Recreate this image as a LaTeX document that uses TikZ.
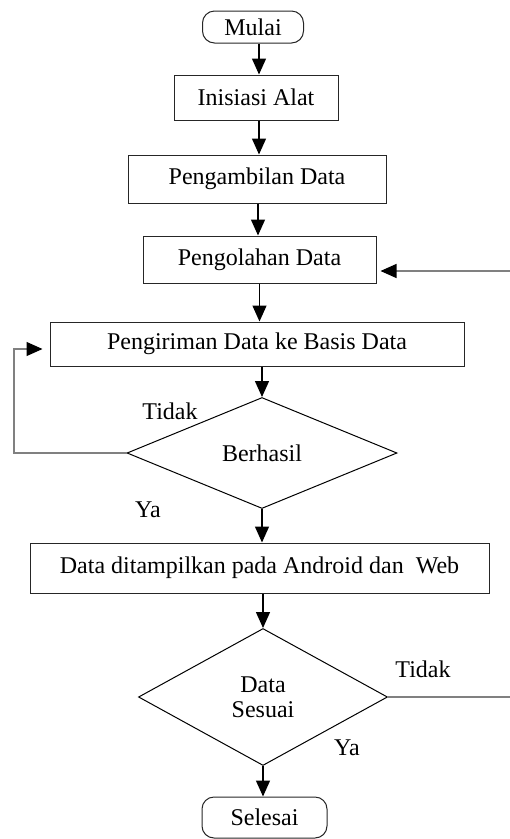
\documentclass[tikz,border=0pt]{standalone}
\usepackage{fontspec}
\setmainfont{Liberation Serif}
\usetikzlibrary{shapes.geometric,arrows.meta}

\begin{document}
\begin{tikzpicture}[x=1pt,y=-1pt,
  font=\fontsize{24}{25}\selectfont,
  box/.style={draw=black!85,line width=1pt,rectangle,inner sep=0pt,align=center},
  term/.style={box,rounded corners=12pt},
  decision/.style={draw=black,line width=1pt,diamond,inner sep=0pt,align=center},
  flow/.style={draw=black,line width=1.4pt,-{Triangle[width=14pt,length=16pt]}},
  side/.style={draw=black!50,line width=1.2pt},
  sidearrow/.style={side,-{Triangle[width=14pt,length=16pt,fill=black,color=black]}},
  lbl/.style={inner sep=0pt}]
\useasboundingbox (0,0) rectangle (510,839);

% process steps
\node[term,minimum width=101pt,minimum height=32pt] (mulai) at (253,27) {Mulai};
\node[box,minimum width=164pt,minimum height=45pt] (init) at (256,97.5) {Inisiasi Alat};
\node[box,minimum width=258pt,minimum height=48pt] (ambil) at (257,179) {Pengambilan Data};
\node[box,minimum width=233pt,minimum height=47pt] (olah) at (259.5,259.5) {Pengolahan Data};
\node[box,minimum width=414pt,minimum height=44pt] (kirim) at (257,344) {Pengiriman Data ke Basis Data};
\node[decision,minimum width=270pt,minimum height=111pt,aspect=2.43] (cek1) at (262,453) {\raisebox{-2pt}{Berhasil}};
\node[box,minimum width=459pt,minimum height=50pt] (tampil) at (259.5,568) {Data ditampilkan pada Android dan\ \ Web};
\node[decision,minimum width=249pt,minimum height=137pt,aspect=1.82] (cek2) at (263,697) {\raisebox{-3pt}{\parbox{3cm}{\centering Data\\Sesuai}}};
\node[term,minimum width=125pt,minimum height=41pt] (selesai) at (264.5,817.5) {Selesai};

% branch labels
\node[lbl] (t1) at (170,411) {Tidak};
\node[lbl] (y1) at (148,510) {Ya};
\node[lbl] (t2) at (423,669) {Tidak};
\node[lbl] (y2) at (347,748) {Ya};

% main flow (vertical drops)
\draw[flow] ([xshift=6pt]mulai.south) coordinate (f0) -- (f0 |- init.north);
\draw[flow] ([xshift=3pt]init.south) coordinate (f1) -- (f1 |- ambil.north);
\draw[flow] ([xshift=1pt]ambil.south) coordinate (f2) -- (f2 |- olah.north);
\draw[flow] (olah.south) -- (olah.south |- kirim.north);
\draw[flow] (kirim.south -| cek1.north) -- (cek1.north);
\draw[flow] (cek1.south) -- (cek1.south |- tampil.north);
\draw[flow] (tampil.south -| cek2.north) -- (cek2.north);
\draw[flow] (cek2.south) -- (cek2.south |- selesai.north);

% return paths
\coordinate (inR) at (510,271);
\draw[sidearrow,shorten >=4pt] (inR) -- (olah.east |- inR);
\coordinate (lp) at (14,349);
\draw[sidearrow,shorten >=7pt] (cek1.west) -| (lp) -- (kirim.west |- lp);
\coordinate (outR) at (510,697);
\draw[side] (cek2.east) -- (outR);
\end{tikzpicture}
\end{document}
